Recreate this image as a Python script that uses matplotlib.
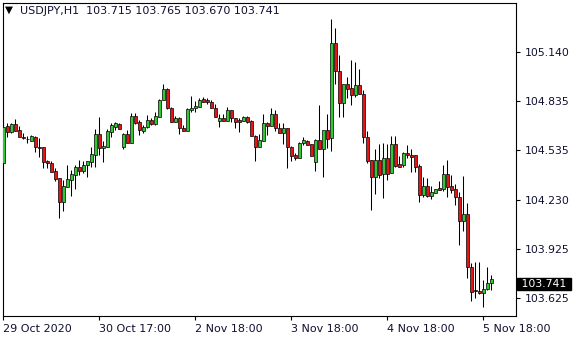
import numpy as np
import matplotlib
matplotlib.use('Agg')
import matplotlib.pyplot as plt

# USDJPY H1 candles (bar 0 = 29 Oct 17:00)
opens = [104.456, 104.684, 104.649, 104.696, 104.659, 104.614, 104.604, 104.594, 104.614, 104.555,
         104.553, 104.468, 104.454, 104.407, 104.361, 104.217, 104.310, 104.351, 104.384, 104.429,
         104.407, 104.441, 104.464, 104.505, 104.634, 104.547, 104.557, 104.649, 104.676, 104.696,
         104.557, 104.634, 104.578, 104.746, 104.709, 104.655, 104.676, 104.721, 104.696, 104.742,
         104.844, 104.912, 104.797, 104.707, 104.731, 104.673, 104.655, 104.785, 104.793, 104.803,
         104.848, 104.844, 104.834, 104.797, 104.717, 104.731, 104.715, 104.781, 104.731, 104.721,
         104.715, 104.739, 104.715, 104.624, 104.555, 104.594, 104.701, 104.686, 104.756, 104.670,
         104.642, 104.670, 104.557, 104.505, 104.489, 104.578, 104.594, 104.571, 104.464, 104.598,
         104.540, 104.659, 104.608, 105.194, 105.023, 104.824, 104.942, 104.916, 104.875, 104.936,
         104.881, 104.614, 104.474, 104.371, 104.474, 104.388, 104.485, 104.392, 104.573, 104.450,
         104.443, 104.519, 104.505, 104.505, 104.437, 104.258, 104.314, 104.254, 104.273, 104.299,
         104.295, 104.388, 104.314, 104.293, 104.244, 104.100, 104.141, 103.813, 103.673, 103.668,
         103.652, 103.677, 103.715]
highs = [104.709, 104.704, 104.704, 104.726, 104.684, 104.639, 104.622, 104.630, 104.622, 104.610,
         104.553, 104.474, 104.468, 104.424, 104.361, 104.351, 104.443, 104.413, 104.443, 104.474,
         104.466, 104.468, 104.557, 104.666, 104.742, 104.594, 104.664, 104.701, 104.709, 104.703,
         104.639, 104.659, 104.763, 104.763, 104.721, 104.690, 104.752, 104.733, 104.772, 104.848,
         104.941, 104.916, 104.801, 104.746, 104.739, 104.690, 104.795, 104.869, 104.838, 104.855,
         104.862, 104.855, 104.844, 104.817, 104.756, 104.756, 104.801, 104.783, 104.735, 104.731,
         104.746, 104.743, 104.721, 104.628, 104.633, 104.756, 104.709, 104.793, 104.783, 104.701,
         104.701, 104.672, 104.561, 104.515, 104.587, 104.618, 104.598, 104.573, 104.602, 104.813,
         104.659, 104.758, 105.342, 105.286, 105.121, 104.942, 104.988, 105.091, 105.080, 105.033,
         104.906, 104.655, 104.474, 104.540, 104.573, 104.578, 104.573, 104.622, 104.622, 104.499,
         104.525, 104.567, 104.540, 104.505, 104.450, 104.371, 104.361, 104.314, 104.295, 104.345,
         104.443, 104.474, 104.382, 104.326, 104.279, 104.376, 104.211, 103.841, 103.843, 103.845,
         103.734, 103.817, 103.765]
lows = [104.443, 104.614, 104.642, 104.655, 104.614, 104.602, 104.581, 104.594, 104.524, 104.491,
        104.427, 104.427, 104.403, 104.343, 104.118, 104.162, 104.310, 104.252, 104.294, 104.382,
        104.396, 104.372, 104.429, 104.433, 104.505, 104.464, 104.557, 104.614, 104.659, 104.664,
        104.540, 104.578, 104.578, 104.696, 104.630, 104.641, 104.670, 104.688, 104.690, 104.742,
        104.844, 104.789, 104.707, 104.707, 104.632, 104.651, 104.653, 104.768, 104.768, 104.801,
        104.832, 104.817, 104.795, 104.742, 104.679, 104.717, 104.715, 104.711, 104.673, 104.649,
        104.715, 104.701, 104.624, 104.468, 104.553, 104.594, 104.628, 104.686, 104.655, 104.642,
        104.571, 104.427, 104.468, 104.474, 104.487, 104.567, 104.567, 104.501, 104.409, 104.540,
        104.367, 104.546, 104.532, 104.942, 104.742, 104.742, 104.855, 104.813, 104.862, 104.879,
        104.576, 104.454, 104.166, 104.265, 104.363, 104.238, 104.351, 104.392, 104.431, 104.431,
        104.429, 104.487, 104.403, 104.403, 104.217, 104.248, 104.248, 104.232, 104.271, 104.289,
        104.283, 104.248, 104.273, 104.195, 103.950, 104.038, 103.745, 103.607, 103.621, 103.645,
        103.566, 103.673, 103.670]
closes = [104.678, 104.649, 104.696, 104.655, 104.614, 104.608, 104.602, 104.622, 104.553, 104.545,
          104.464, 104.454, 104.403, 104.359, 104.217, 104.314, 104.356, 104.388, 104.429, 104.407,
          104.443, 104.466, 104.511, 104.634, 104.547, 104.561, 104.655, 104.692, 104.701, 104.664,
          104.634, 104.578, 104.746, 104.704, 104.659, 104.676, 104.721, 104.696, 104.746, 104.844,
          104.912, 104.797, 104.707, 104.735, 104.670, 104.655, 104.789, 104.795, 104.807, 104.844,
          104.834, 104.830, 104.797, 104.742, 104.731, 104.717, 104.781, 104.735, 104.711, 104.711,
          104.739, 104.711, 104.624, 104.557, 104.598, 104.701, 104.686, 104.756, 104.670, 104.642,
          104.672, 104.557, 104.501, 104.489, 104.578, 104.596, 104.569, 104.501, 104.598, 104.540,
          104.659, 104.606, 105.194, 105.025, 104.824, 104.942, 104.912, 104.875, 104.936, 104.879,
          104.613, 104.470, 104.371, 104.474, 104.382, 104.485, 104.388, 104.573, 104.439, 104.433,
          104.515, 104.505, 104.494, 104.433, 104.258, 104.314, 104.254, 104.277, 104.293, 104.289,
          104.388, 104.310, 104.289, 104.244, 104.100, 104.141, 103.813, 103.662, 103.667, 103.651,
          103.677, 103.717, 103.741]

date_ticks = [0, 24, 48, 72, 96, 120]
date_labels = ['29 Oct 2020', '30 Oct 17:00', '2 Nov 18:00', '3 Nov 18:00', '4 Nov 18:00', '5 Nov 18:00']
price_ticks = [103.625, 103.925, 104.230, 104.535, 104.835, 105.140]
price_labels = ['103.625', '103.925', '104.230', '104.535', '104.835', '105.140']

symbol = 'USDJPY,H1'
last_ohlc = ['103.715', '103.765', '103.670', '103.741']
last_price = 103.741

BULL = '#32c832'
BEAR = '#e61414'
TXT = '#101030'

fig = plt.figure(figsize=(5.8, 3.4), dpi=100)
ax = fig.add_axes([2.7 / 580, 1 - 316 / 340, (516 - 2.7) / 580, (316 - 2.7) / 340])

o = np.array(opens)
h = np.array(highs)
l = np.array(lows)
c = np.array(closes)
x = np.arange(len(o))

ax.vlines(x, l, h, color='black', lw=0.75, zorder=2)
cols = np.where(c >= o, BULL, BEAR)
bottoms = np.minimum(o, c)
heights = np.abs(c - o)
ax.bar(x, heights, bottom=bottoms, width=0.78, color=cols, edgecolor='black',
       linewidth=0.5, zorder=3)

ax.set_xlim(-0.15, 128.2)
ax.set_ylim(103.512, 105.444)

for s in ax.spines.values():
    s.set_color('black')
    s.set_linewidth(0.8)

ax.yaxis.tick_right()
ax.set_yticks(price_ticks)
ax.set_yticklabels(price_labels)
ax.set_xticks(date_ticks)
ax.set_xticklabels(date_labels, ha='left')
ax.tick_params(axis='y', direction='out', length=3, width=0.8, pad=3,
               labelsize=7.8, labelcolor=TXT)
ax.tick_params(axis='x', direction='out', length=3, width=0.8, pad=3,
               labelsize=8, labelcolor=TXT)

# current price marker on the right scale
ax.text(1.004, last_price, ' ' + str(last_price) + ' ', transform=ax.get_yaxis_transform(),
        ha='left', va='top', fontsize=7.8, color='white', zorder=5, clip_on=False,
        bbox=dict(boxstyle='square,pad=0.1', fc='black', ec='black'))

# header line
fig.text(5 / 580, 1 - 10 / 340, '\u25bc', fontsize=7.5, color='black', va='center', ha='left')
fig.text(20 / 580, 1 - 11 / 340, symbol + '  ' + ' '.join(last_ohlc),
         fontsize=8, color=TXT, va='center', ha='left')

fig.savefig('out.png', dpi=100)
